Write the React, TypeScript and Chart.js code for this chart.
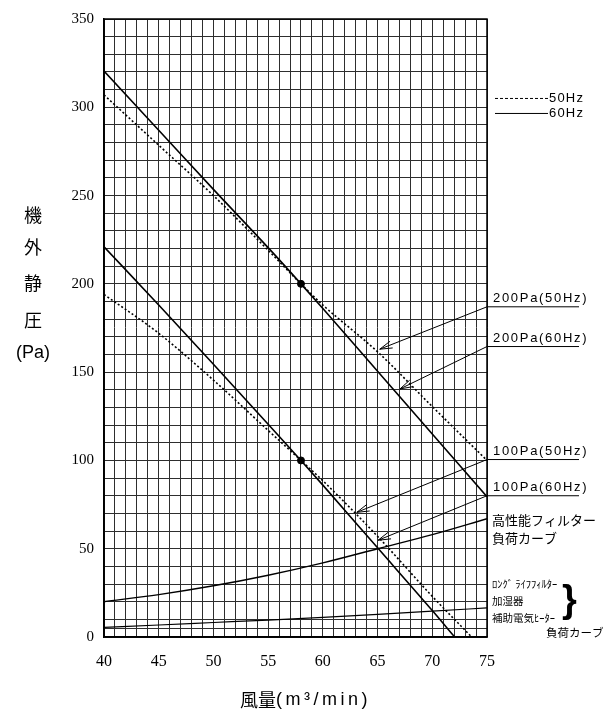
import React, { useEffect, useRef } from 'react';
import { Chart, registerables } from 'chart.js';

Chart.register(...registerables);

// ---- data ----
const flowQ200 = [40, 45, 50, 55, 58, 60, 65, 70, 75];
const static200Hz60 = [320.5, 287, 253.5, 220.5, 200, 186, 150.5, 115, 79.5];
const static200Hz50 = [307, 278.5, 250, 219, 200, 188, 161.5, 130.5, 100];
const flowQ100Hz60 = [40, 45, 50, 55, 58, 60, 65, 70, 72.05];
const static100Hz60 = [221, 188, 154.5, 120.5, 100, 86, 50.5, 15, 0];
const flowQ100Hz50 = [40, 45, 50, 55, 58, 60, 65, 70, 73.6];
const static100Hz50 = [194, 172, 145.5, 117, 100, 88.5, 57, 23, 0];
const loadQ = [40, 45, 50, 55, 60, 65, 70, 75];
const filterLoad = [20, 24, 29, 35, 42, 50, 58, 67];
const longLifeLoad = [5.5, 6.8, 8.2, 9.6, 11.1, 12.8, 14.6, 16.5];
const ratedQ = [58, 58];
const ratedP = [200, 100];

const xLabelValues = [40, 45, 50, 55, 60, 65, 70, 75];
const yLabelValues = [0, 50, 100, 150, 200, 250, 300, 350];
const xMin = 40, xMax = 75, xGridStep = 1;
const yMin = 0, yMax = 350, yGridStep = 10;
const yExtraGrid = [5];

const arrowLabels = ['200Pa(50Hz)', '200Pa(60Hz)', '100Pa(50Hz)', '100Pa(60Hz)'];
const arrowTailQ = 75;
const arrowTailP = [187, 164.5, 100.5, 80];
const arrowHeadQ = [65.2, 67.05, 63.1, 65.05];
const arrowHeadP = [163, 140.5, 70.6, 54.8];

const legendLabels = ['50Hz', '60Hz'];
const legendP = [305, 296.5];

const yTitleChars = ['機', '外', '静', '圧', '(Pa)'];

const toXY = (xs: number[], ys: number[]) => xs.map((v, i) => ({ x: v, y: ys[i] }));

const lineDs = (label: string, xs: number[], ys: number[], dashed: boolean, width = 1.6) => ({
  label,
  data: toXY(xs, ys),
  borderColor: '#000',
  backgroundColor: '#000',
  borderWidth: width,
  borderDash: dashed ? [2, 2.2] : [],
  pointRadius: 0,
  fill: false,
  cubicInterpolationMode: 'monotone' as const,
});

const annotationPlugin = {
  id: 'annotations',
  afterDatasetsDraw(chart: any) {
    const { ctx, chartArea: a, scales } = chart;
    const x = scales.x, y = scales.y;
    ctx.save();
    // frame
    ctx.strokeStyle = '#000';
    ctx.lineWidth = 1.5;
    ctx.strokeRect(a.left, a.top, a.right - a.left, a.bottom - a.top);

    const sans = '"Liberation Sans", Arial, sans-serif';
    const jp = '"Noto Sans CJK JP", sans-serif';

    // arrows with labels
    ctx.lineWidth = 1;
    arrowLabels.forEach((label, i) => {
      const tx = x.getPixelForValue(arrowTailQ);
      const ty = y.getPixelForValue(arrowTailP[i]);
      const hx = x.getPixelForValue(arrowHeadQ[i]);
      const hy = y.getPixelForValue(arrowHeadP[i]);
      ctx.beginPath();
      ctx.moveTo(tx, ty);
      ctx.lineTo(tx + 92, ty);
      ctx.moveTo(tx, ty);
      ctx.lineTo(hx, hy);
      const ang = Math.atan2(ty - hy, tx - hx);
      const L = 13;
      ctx.moveTo(hx + L * Math.cos(ang + 0.28), hy + L * Math.sin(ang + 0.28));
      ctx.lineTo(hx, hy);
      ctx.lineTo(hx + L * Math.cos(ang - 0.28), hy + L * Math.sin(ang - 0.28));
      ctx.stroke();
      ctx.fillStyle = '#000';
      ctx.font = '13px ' + sans;
      (ctx as any).letterSpacing = '1.7px';
      ctx.textAlign = 'left';
      ctx.textBaseline = 'middle';
      ctx.fillText(label, tx + 6, ty - 8);
      (ctx as any).letterSpacing = '0px';
    });

    // legend
    legendLabels.forEach((label, i) => {
      const lx = a.right + 8;
      const ly = y.getPixelForValue(legendP[i]);
      ctx.beginPath();
      ctx.lineWidth = 1;
      ctx.setLineDash(i === 0 ? [3, 2] : []);
      ctx.moveTo(lx, ly);
      ctx.lineTo(lx + 53, ly);
      ctx.stroke();
      ctx.setLineDash([]);
      ctx.font = '13px ' + sans;
      (ctx as any).letterSpacing = '1.2px';
      ctx.textBaseline = 'middle';
      ctx.fillText(label, lx + 54, ly);
      (ctx as any).letterSpacing = '0px';
    });

    // load curve labels
    const rx = a.right + 5;
    const fy = y.getPixelForValue(filterLoad[filterLoad.length - 1]);
    ctx.font = '13px ' + jp;
    ctx.textBaseline = 'middle';
    ctx.fillText('高性能フィルター', rx, fy + 1);
    ctx.fillText('負荷カーブ', rx, fy + 19);

    ctx.font = '10.5px ' + jp;
    ctx.fillText('ﾛﾝｸﾞ ﾗｲﾌﾌｨﾙﾀｰ', rx, a.bottom - 53);
    ctx.fillText('加湿器', rx, a.bottom - 36);
    ctx.fillText('補助電気ﾋｰﾀｰ', rx, a.bottom - 19);
    ctx.font = 'bold 38px ' + sans;
    ctx.fillText('}', rx + 70, a.bottom - 35);
    ctx.font = '11.5px ' + jp;
    ctx.fillText('負荷カーブ', rx + 54, a.bottom - 4);

    // y title (vertical stack)
    ctx.textAlign = 'center';
    const ys = [215, 247, 283, 320, 353];
    yTitleChars.forEach((c, i) => {
      ctx.font = (i < 4 ? '18px ' + jp : '18px ' + sans);
      ctx.fillText(c, 33, ys[i]);
    });

    // x title
    ctx.textAlign = 'left';
    ctx.font = '18px ' + jp;
    ctx.fillText('風量', 240, 700);
    ctx.font = '18px ' + sans;
    (ctx as any).letterSpacing = '3.5px';
    ctx.fillText('(m³/min)', 276, 700);
    (ctx as any).letterSpacing = '0px';

    ctx.restore();
  },
};

function rangeTicks(min: number, max: number, step: number, extra: number[] = []) {
  const out: { value: number }[] = [];
  for (let v = min; v <= max + 1e-9; v += step) out.push({ value: v });
  extra.forEach((v) => out.push({ value: v }));
  out.sort((p, q) => p.value - q.value);
  return out;
}

export default function App() {
  const ref = useRef<HTMLCanvasElement | null>(null);
  useEffect(() => {
    if (!ref.current) return;
    const chart = new Chart(ref.current, {
      type: 'line',
      data: {
        datasets: [
          lineDs('200Pa 60Hz', flowQ200, static200Hz60, false),
          lineDs('200Pa 50Hz', flowQ200, static200Hz50, true),
          lineDs('100Pa 60Hz', flowQ100Hz60, static100Hz60, false),
          lineDs('100Pa 50Hz', flowQ100Hz50, static100Hz50, true),
          lineDs('高性能フィルター', loadQ, filterLoad, false, 1.4),
          lineDs('ロングライフフィルター', loadQ, longLifeLoad, false, 1.2),
          {
            label: 'rated',
            data: toXY(ratedQ, ratedP),
            showLine: false,
            pointRadius: 3.5,
            pointBackgroundColor: '#000',
            pointBorderColor: '#000',
            borderColor: '#000',
          } as any,
        ],
      },
      options: {
        responsive: false,
        animation: false,
        events: [],
        layout: { padding: { left: 0, right: 121, top: 7, bottom: 0 } },
        plugins: { legend: { display: false }, tooltip: { enabled: false }, title: { display: false } },
        scales: {
          x: {
            type: 'linear',
            min: xMin,
            max: xMax,
            afterBuildTicks: (s: any) => { s.ticks = rangeTicks(xMin, xMax, xGridStep); },
            afterFit: (s: any) => { s.height = 79; },
            grid: { color: '#2e2e2e', lineWidth: 1, drawTicks: false },
            border: { color: '#000', width: 1.5 },
            ticks: {
              autoSkip: false,
              maxRotation: 0,
              padding: 15,
              color: '#000',
              font: { family: '"Liberation Serif", serif', size: 16 },
              callback: (v: any) => (xLabelValues.includes(Number(v)) ? String(v) : ''),
            },
          },
          y: {
            type: 'linear',
            min: yMin,
            max: yMax,
            afterBuildTicks: (s: any) => { s.ticks = rangeTicks(yMin, yMax, yGridStep, yExtraGrid); },
            afterFit: (s: any) => { s.width = 104; },
            grid: { color: '#2e2e2e', lineWidth: 1, drawTicks: false },
            border: { color: '#000', width: 1.5 },
            ticks: {
              autoSkip: false,
              padding: 10,
              color: '#000',
              font: { family: '"Liberation Serif", serif', size: 15 },
              callback: (v: any) => (yLabelValues.includes(Number(v)) ? String(v) : ''),
            },
          },
        },
      },
      plugins: [annotationPlugin],
    } as any);
    return () => chart.destroy();
  }, []);
  return (
    <div style={{ position: 'fixed', left: 0, top: 0, width: 608, height: 716, background: '#fff' }}>
      <canvas ref={ref} width={608} height={716} style={{ display: 'block' }} />
    </div>
  );
}
